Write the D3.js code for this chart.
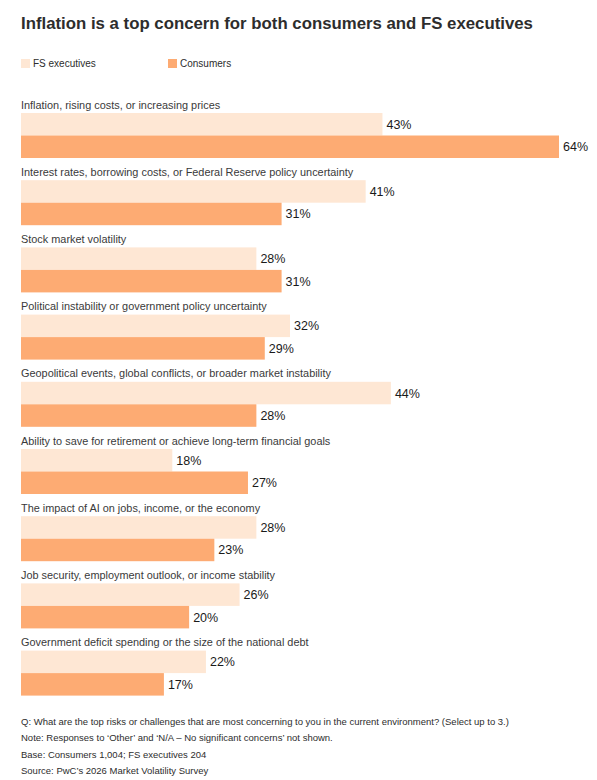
<!DOCTYPE html>
<html>
<head>
<meta charset="utf-8">
<script src="https://cdn.jsdelivr.net/npm/d3@7"></script>
<style>
  body { margin: 0; background: #fff; }
  svg { display: block; font-family: 'Liberation Sans', Arial, sans-serif; }
</style>
</head>
<body>
<svg id="chart" width="597" height="780"></svg>
<script>
'use strict';
const CATEGORIES = [
  'Inflation, rising costs, or increasing prices',
  'Interest rates, borrowing costs, or Federal Reserve policy uncertainty',
  'Stock market volatility',
  'Political instability or government policy uncertainty',
  'Geopolitical events, global conflicts, or broader market instability',
  'Ability to save for retirement or achieve long-term financial goals',
  'The impact of AI on jobs, income, or the economy',
  'Job security, employment outlook, or income stability',
  'Government deficit spending or the size of the national debt',
];
const SERIES = ['FS executives', 'Consumers'];
const FS_EXECUTIVES = [43, 41, 28, 32, 44, 18, 28, 26, 22];
const CONSUMERS = [64, 31, 31, 29, 28, 27, 23, 20, 17];
const COLORS = ['#fee7d4', '#fdab73'];
const FOOTNOTES = [
  'Q: What are the top risks or challenges that are most concerning to you in the current environment? (Select up to 3.)',
  'Note: Responses to \u2018Other\u2019 and \u2018N/A \u2013 No significant concerns\u2019 not shown.',
  'Base: Consumers 1,004; FS executives 204',
  'Source: PwC\u2019s 2026 Market Volatility Survey',
];

const svg = d3.select('#chart');
const left = 21;

const data = CATEGORIES.map((c, i) => ({
  category: c,
  values: [FS_EXECUTIVES[i], CONSUMERS[i]],
}));

// title
svg.append('text')
  .attr('x', left).attr('y', 29)
  .attr('font-size', 16.8).attr('font-weight', 'bold')
  .attr('fill', '#2d2d2d')
  .text('Inflation is a top concern for both consumers and FS executives');

// legend
const legendX = [21, 168];
SERIES.forEach((s, i) => {
  svg.append('rect')
    .attr('x', legendX[i]).attr('y', 59)
    .attr('width', 9).attr('height', 9)
    .attr('fill', COLORS[i]);
  svg.append('text')
    .attr('x', legendX[i] + 12).attr('y', 67)
    .attr('font-size', 10).attr('fill', '#2d2d2d')
    .text(s);
});

// scales
const x = d3.scaleLinear().domain([0, 64]).range([left, 559]);
const y = d3.scaleBand().domain(CATEGORIES).range([100, 100 + 67.2 * CATEGORIES.length]);
const inner = d3.scaleBand().domain(SERIES).range([13, 58]);

const groups = svg.append('g')
  .selectAll('g')
  .data(data)
  .enter()
  .append('g')
  .attr('transform', (d) => `translate(0,${y(d.category)})`);

groups.append('text')
  .attr('x', left).attr('y', 8.5)
  .attr('font-size', 10.9).attr('fill', '#3a3a3a')
  .text((d) => d.category);

groups.selectAll('rect')
  .data((d) => d.values.map((v, i) => ({ key: SERIES[i], value: v, i })))
  .enter()
  .append('rect')
  .attr('x', x(0))
  .attr('y', (d) => inner(d.key))
  .attr('width', (d) => x(d.value) - x(0))
  .attr('height', inner.bandwidth())
  .attr('fill', (d) => COLORS[d.i]);

groups.selectAll('text.val')
  .data((d) => d.values.map((v, i) => ({ key: SERIES[i], value: v })))
  .enter()
  .append('text')
  .attr('class', 'val')
  .attr('x', (d) => x(d.value) + 4)
  .attr('y', (d) => inner(d.key) + inner.bandwidth() / 2)
  .attr('dy', '0.36em')
  .attr('font-size', 12.5).attr('fill', '#1a1a1a')
  .text((d) => d.value + '%');

// footnotes
svg.append('g')
  .selectAll('text')
  .data(FOOTNOTES)
  .enter()
  .append('text')
  .attr('x', left)
  .attr('y', (d, i) => 725 + i * 16.3)
  .attr('font-size', 9.5).attr('fill', '#2d2d2d')
  .text((d) => d);
</script>
</body>
</html>
